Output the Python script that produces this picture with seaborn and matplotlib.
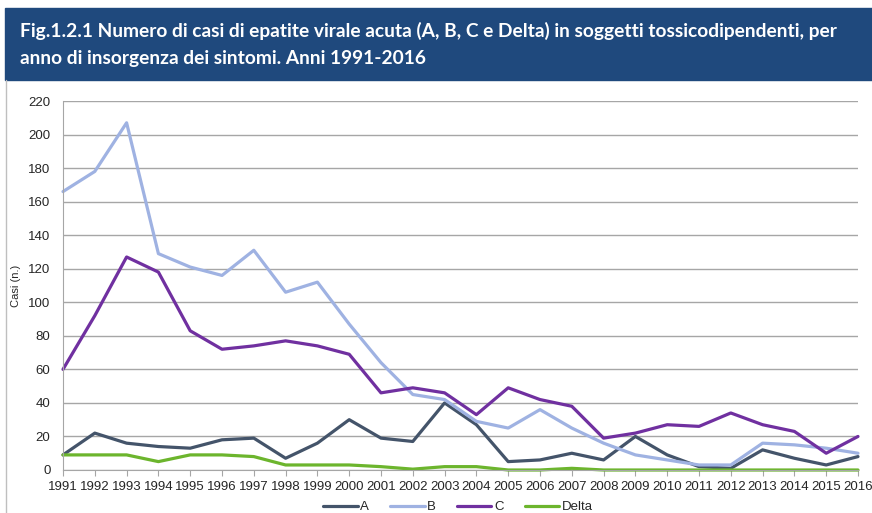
import matplotlib
matplotlib.use("Agg")
import matplotlib.pyplot as plt
import seaborn as sns
import pandas as pd
from matplotlib.patches import Rectangle
from matplotlib.lines import Line2D

# anni di insorgenza
anni = list(range(1991, 2017))

# casi per tipo di epatite
casi_A = [9, 22, 16, 14, 13, 18, 19, 7, 16, 30, 19, 17, 40, 27, 5, 6, 10, 6, 20, 9, 2, 1, 12, 7, 3, 8]
casi_B = [166, 178, 207, 129, 121, 116, 131, 106, 112, 87, 64, 45, 42, 29, 25, 36, 25, 16, 9, 6, 3, 3, 16, 15, 13, 10]
casi_C = [60, 92, 127, 118, 83, 72, 74, 77, 74, 69, 46, 49, 46, 33, 49, 42, 38, 19, 22, 27, 26, 34, 27, 23, 10, 20]
casi_D = [9, 9, 9, 5, 9, 9, 8, 3, 3, 3, 2, 0.5, 2, 2, 0, 0, 1, 0, 0, 0, 0, 0, 0, 0, 0, 0]

serie = ["A", "B", "C", "Delta"]
colori = ["#44546A", "#9FB2E2", "#7030A0", "#6CB52D"]

df = pd.DataFrame({"anno": anni * 4,
                   "casi": casi_A + casi_B + casi_C + casi_D,
                   "tipo": sum([[s] * len(anni) for s in serie], [])})

sns.set_style("white")
plt.rcParams['font.family'] = ['Liberation Sans', 'DejaVu Sans']

fig = plt.figure(figsize=(8.72, 5.13), dpi=100)
W, H = 872, 513

# banda titolo
fig.patches.append(Rectangle((5 / W, 1 - 80 / H), 1 - 5 / W, 72 / H,
                             transform=fig.transFigure, color="#1F497D", zorder=0))
fig.text(20 / W, 1 - 31 / H,
         "Fig.1.2.1 Numero di casi di epatite virale acuta (A, B, C e Delta) in soggetti tossicodipendenti, per",
         color="white", fontsize=13.8, fontweight="bold", family=["Lato", "DejaVu Sans"], va="center")
fig.text(20 / W, 1 - 59 / H, "anno di insorgenza dei sintomi. Anni 1991-2016",
         color="white", fontsize=13.8, fontweight="bold", family=["Lato", "DejaVu Sans"], va="center")
# bordo sinistro
fig.lines.append(Line2D([6 / W, 6 / W], [0, 1 - 80 / H], transform=fig.transFigure,
                        color="#BFBFBF", lw=1))

ax = fig.add_axes([63 / W, 1 - 470 / H, (858 - 63) / W, (470 - 101) / H])
sns.lineplot(data=df, x="anno", y="casi", hue="tipo", palette=colori, linewidth=2.3,
             ax=ax, legend=False)
for ln in ax.lines:
    ln.set_clip_on(False)

ax.set_xlim(1991, 2016)
ax.set_ylim(0, 220)
ax.set_yticks(range(0, 221, 20))
ax.set_xticks(anni)
ax.set_xticklabels([str(a) for a in anni])
ax.yaxis.grid(True, color="#A6A6A6", lw=1)
ax.set_axisbelow(True)
for s in ["top", "right"]:
    ax.spines[s].set_visible(False)
for s in ["left", "bottom"]:
    ax.spines[s].set_color("#A6A6A6")
ax.tick_params(axis="x", direction="out", length=4, color="#A6A6A6", labelsize=9.5, pad=4,
               labelcolor="#262626", bottom=True)
ax.tick_params(axis="y", length=0, labelsize=9.5, labelcolor="#262626", pad=9)
ax.set_xlabel("")
ax.set_ylabel("Casi (n.)", fontsize=8, color="#262626", labelpad=5)

handles = [Line2D([], [], color=c, lw=2.3) for c in colori]
fig.legend(handles, serie, loc="center", bbox_to_anchor=(458 / W, 1 - 507 / H), ncol=4,
           frameon=False, fontsize=9.5, handlelength=2.6, handletextpad=0.2, columnspacing=1.6)

fig.savefig("out.png", dpi=100)
